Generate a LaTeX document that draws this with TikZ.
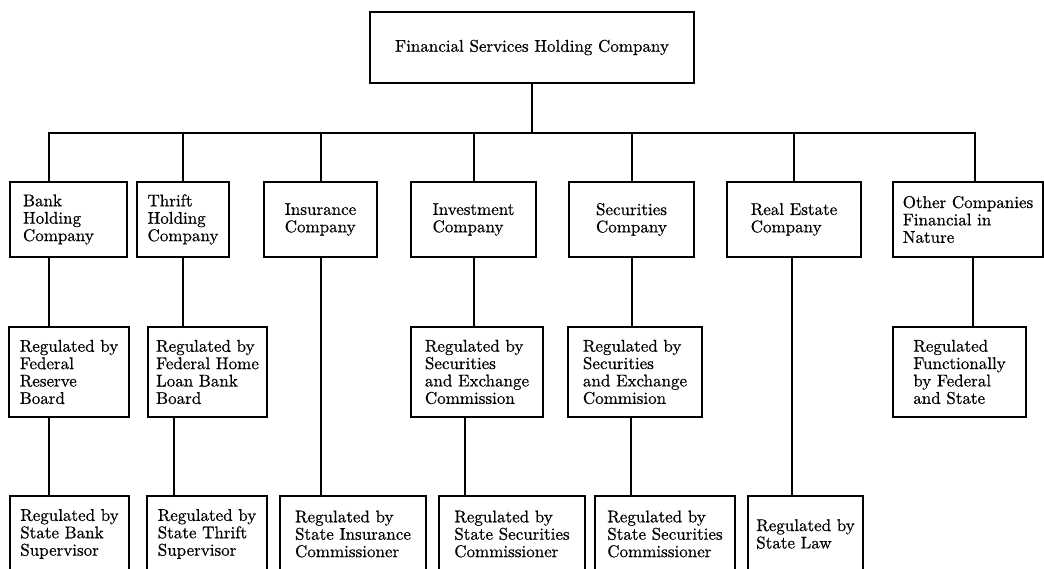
\documentclass[tikz,border=0pt]{standalone}
\usepackage{fontspec}
\setmainfont{lmroman10-regular}[Extension=.otf, FakeBold=0.6]
\begin{document}
\begin{tikzpicture}[x=1pt,y=-1pt,
  box/.style={draw, line width=1.1pt, font=\fontsize{17}{17.4}\selectfont, align=left, inner sep=0pt, outer sep=0pt},
  conn/.style={line width=1.1pt}]
\useasboundingbox (0,0) rectangle (1044,569);
% top
\node[box, minimum width=324pt, minimum height=71pt] (top) at (532,47.5) {Financial Services Holding Company};
% row 1
\node[box, minimum width=117pt, minimum height=75pt, inner xsep=13pt, text width=91pt] (bank1) at (68.5,219.5) {Bank\\Holding\\Company};
\node[box, minimum width=92pt, minimum height=75pt] (thrift1) at (183,219.5) {Thrift\\Holding\\Company};
\node[box, minimum width=113pt, minimum height=75pt] (ins1) at (320.5,219.5) {Insurance\\Company};
\node[box, minimum width=125pt, minimum height=75pt] (inv1) at (473.5,219.5) {Investment\\Company};
\node[box, minimum width=125pt, minimum height=75pt] (sec1) at (631.5,219.5) {Securities\\Company};
\node[box, minimum width=134pt, minimum height=75pt] (re1) at (794,219.5) {Real Estate\\Company};
\node[box, minimum width=150pt, minimum height=75pt] (oth1) at (968,219.5) {Other Companies\\Financial in\\Nature};
% row 2
\node[box, minimum width=120pt, minimum height=90pt] (bank2) at (69,372) {Regulated by\\Federal\\Reserve\\Board};
\node[box, minimum width=119pt, minimum height=90pt] (thrift2) at (207.5,372) {Regulated by\\Federal Home\\Loan Bank\\Board};
\node[box, minimum width=132pt, minimum height=90pt] (inv2) at (477,372) {Regulated by\\Securities\\and Exchange\\Commission};
\node[box, minimum width=134pt, minimum height=90pt] (sec2) at (635,372) {Regulated by\\Securities\\and Exchange\\Commision};
\node[box, minimum width=133pt, minimum height=90pt] (oth2) at (959.5,372) {Regulated\\Functionally\\by Federal\\and State};
% row 3
\node[box, minimum width=119pt, minimum height=76pt] (bank3) at (69.5,534) {Regulated by\\State Bank\\Supervisor};
\node[box, minimum width=120pt, minimum height=76pt] (thrift3) at (207,534) {Regulated by\\State Thrift\\Supervisor};
\node[box, minimum width=146pt, minimum height=76pt] (ins3) at (353,534) {Regulated by\\State Insurance\\Commissioner};
\node[box, minimum width=146pt, minimum height=76pt] (inv3) at (512,534) {Regulated by\\State Securities\\Commissioner};
\node[box, minimum width=140pt, minimum height=76pt] (sec3) at (665,534) {Regulated by\\State Securities\\Commissioner};
\node[box, minimum width=115pt, minimum height=76pt] (re3) at (805.5,534) {Regulated by\\State Law};
% column positions
\coordinate (bus) at (0,133);
\coordinate (k1) at (49,0);
\coordinate (k2) at (183,0);
\coordinate (k2b) at (174,0);
\coordinate (k3) at (321,0);
\coordinate (k4) at (474,0);
\coordinate (k4b) at (465,0);
\coordinate (k5) at (632,0);
\coordinate (k5b) at (631,0);
\coordinate (k6) at (794,0);
\coordinate (k6b) at (792,0);
\coordinate (k7) at (975,0);
\coordinate (k7b) at (973,0);
% connectors
\draw[conn] (top.south) -- (top.south |- bus);
\draw[conn] (k1 |- bank1.north) -- (k1 |- bus) -- (k7 |- bus) -- (k7 |- oth1.north);
\draw[conn] (k2 |- bus) -- (k2 |- thrift1.north);
\draw[conn] (k3 |- bus) -- (k3 |- ins1.north);
\draw[conn] (k4 |- bus) -- (k4 |- inv1.north);
\draw[conn] (k5 |- bus) -- (k5 |- sec1.north);
\draw[conn] (k6 |- bus) -- (k6 |- re1.north);
\draw[conn] (k1 |- bank1.south) -- (k1 |- bank2.north);
\draw[conn] (k1 |- bank2.south) -- (k1 |- bank3.north);
\draw[conn] (k2 |- thrift1.south) -- (k2 |- thrift2.north);
\draw[conn] (k2b |- thrift2.south) -- (k2b |- thrift3.north);
\draw[conn] (k3 |- ins1.south) -- (k3 |- ins3.north);
\draw[conn] (k4 |- inv1.south) -- (k4 |- inv2.north);
\draw[conn] (k4b |- inv2.south) -- (k4b |- inv3.north);
\draw[conn] (k5 |- sec1.south) -- (k5 |- sec2.north);
\draw[conn] (k5b |- sec2.south) -- (k5b |- sec3.north);
\draw[conn] (k6b |- re1.south) -- (k6b |- re3.north);
\draw[conn] (k7b |- oth1.south) -- (k7b |- oth2.north);
\end{tikzpicture}
\end{document}
